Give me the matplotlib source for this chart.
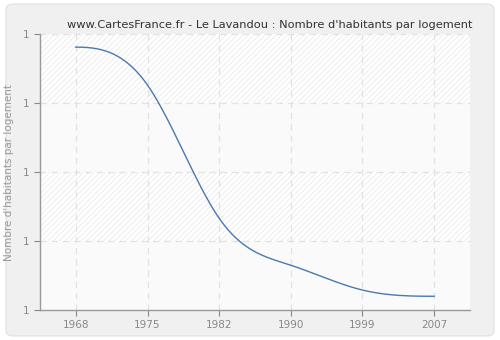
import matplotlib
matplotlib.use("Agg")
import matplotlib.pyplot as plt
import numpy as np
from matplotlib.patches import FancyBboxPatch, Rectangle

# data
years = [1968, 1975, 1982, 1990, 1999, 2007]
values = [1.381, 1.326, 1.133, 1.065, 1.029, 1.020]
yticks = [1.0, 1.1, 1.2, 1.3, 1.4]
ytick_labels = ["1", "1", "1", "1", "1"]
title = "www.CartesFrance.fr - Le Lavandou : Nombre d'habitants par logement"
ylabel = "Nombre d'habitants par logement"

plt.rcParams["hatch.linewidth"] = 0.5
plt.rcParams["hatch.color"] = "#e6e6e6"


# clamped cubic spline (zero end slopes) for the smooth line
def spline(y, xn):
    y = np.asarray(y, float)
    n = len(y)
    A = np.zeros((n - 2, n - 2))
    b = np.zeros(n - 2)
    for k in range(1, n - 1):
        A[k - 1, k - 1] = 4
        if k > 1:
            A[k - 1, k - 2] = 1
        if k < n - 2:
            A[k - 1, k] = 1
        b[k - 1] = 3 * (y[k + 1] - y[k - 1])
    m = np.zeros(n)
    m[1:-1] = np.linalg.solve(A, b)
    yn = np.empty_like(xn)
    for i, xv in enumerate(xn):
        k = min(int(np.floor(xv)), n - 2)
        t = xv - k
        h00 = 2 * t**3 - 3 * t**2 + 1
        h10 = t**3 - 2 * t**2 + t
        h01 = -2 * t**3 + 3 * t**2
        h11 = t**3 - t**2
        yn[i] = h00 * y[k] + h10 * m[k] + h01 * y[k + 1] + h11 * m[k + 1]
    return yn


fig = plt.figure(figsize=(5, 3.4), dpi=100)
fig.patch.set_facecolor("white")
fig.patches.append(FancyBboxPatch((0.012, 0.012), 0.976, 0.976, boxstyle="round,pad=0,rounding_size=0.015",
                                  transform=fig.transFigure, facecolor="#f0f0f0", edgecolor="#e4e4e4",
                                  linewidth=1, zorder=-10))

ax = fig.add_axes([0.08, 0.088, 0.86, 0.812])
ax.set_facecolor("#fbfbfb")
pos = np.arange(len(years))
ax.set_xlim(-0.5, len(years) - 0.5)
ax.set_ylim(yticks[0], yticks[-1])

# alternating hatched bands
for i in range(len(yticks) - 1):
    lo, hi = yticks[i], yticks[i + 1]
    hatched = (i % 2 == 1)
    ax.add_patch(Rectangle((-0.5, lo), len(years), hi - lo, facecolor="white" if hatched else "#fafafa",
                           hatch="//////" if hatched else None, linewidth=0, zorder=0))

for y in yticks[1:]:
    ax.axhline(y, color="#e2e2e2", linestyle=(0, (5, 4)), linewidth=0.9, zorder=1)
for x in pos:
    ax.axvline(x, color="#e2e2e2", linestyle=(0, (5, 4)), linewidth=0.9, zorder=1)

xs = np.linspace(0, len(years) - 1, 400)
ax.plot(xs, spline(values, xs), color="#4a78b0", linewidth=1.0, zorder=3)

ax.set_xticks(pos)
ax.set_xticklabels([str(y) for y in years])
ax.set_yticks(yticks)
ax.set_yticklabels(ytick_labels)
ax.tick_params(colors="#888888", labelcolor="#888888", labelsize=7.5, length=4, width=0.8)
for s in ["top", "right"]:
    ax.spines[s].set_visible(False)
for s in ["left", "bottom"]:
    ax.spines[s].set_color("#999999")
    ax.spines[s].set_linewidth(1)

ax.set_ylabel(ylabel, color="#999999", fontsize=7.5)
ax.yaxis.set_label_coords(-0.06, 0.5)
fig.text(0.54, 0.925, title, ha="center", va="center", fontsize=8.2, color="#333333")

fig.savefig("out.png", dpi=100)
